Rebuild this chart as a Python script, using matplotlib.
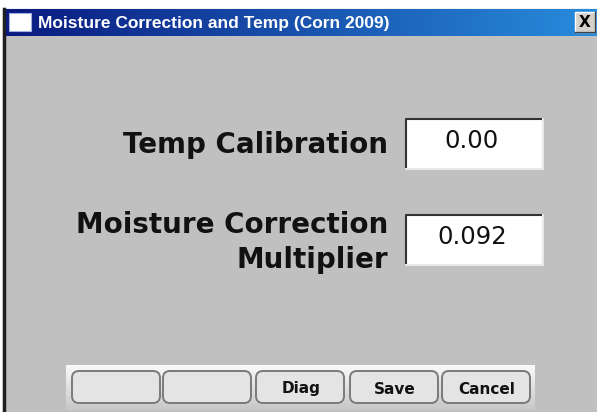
import numpy as np
import matplotlib
matplotlib.use("Agg")
import matplotlib.pyplot as plt
from matplotlib.patches import Rectangle, FancyBboxPatch

# dialog content
title = "Moisture Correction and Temp (Corn 2009)"
field_labels = [["Temp Calibration"], ["Moisture Correction", "Multiplier"]]
field_values = ["0.00", "0.092"]
button_labels = ["", "", "Diag", "Save", "Cancel"]

W, H = 597, 412
fig = plt.figure(figsize=(W / 100, H / 100), dpi=100)
ax = fig.add_axes([0, 0, 1, 1])
ax.set_xlim(0, W)
ax.set_ylim(H, 0)
ax.axis("off")

# window body
ax.add_patch(Rectangle((0, 0), W, H, color="white", zorder=0))
ax.add_patch(Rectangle((3, 9), W - 3, H - 9, color="#c0c0c0", zorder=1))
ax.plot([4, 4], [9, H], color="#202020", lw=2.5, zorder=2)

# title bar gradient
grad = np.linspace(0, 1, 256)
c0 = np.array([10, 26, 128]) / 255
c1 = np.array([40, 140, 220]) / 255
img = c0[None, :] + grad[:, None] * (c1 - c0)[None, :]
ax.imshow(img[None, :, :], extent=(6, W, 36, 9), aspect="auto", zorder=2)
ax.add_patch(Rectangle((9, 13), 22, 18, facecolor="white", edgecolor="#a0b0e0", lw=0.8, zorder=3))
ax.text(38, 23, title, color="white", fontsize=12.5, fontweight="bold",
        family="Liberation Sans", va="center", ha="left", zorder=3)
# close button
ax.add_patch(Rectangle((575, 12), 20, 20, facecolor="#d4d0c8", edgecolor="white", lw=1, zorder=3))
ax.plot([575, 595, 595], [32, 32, 12], color="#404040", lw=1, zorder=4)
ax.text(585, 22.5, "X", fontsize=11, fontweight="bold", ha="center", va="center", zorder=4)

# fields
baselines = [[153], [233, 268]]
box_top = [119, 215]
for lines, val, bls, bt in zip(field_labels, field_values, baselines, box_top):
    for line, bl in zip(lines, bls):
        ax.text(388, bl, line, fontsize=20, fontweight="bold", ha="right", va="baseline",
                color="#111111", zorder=3)
    ax.add_patch(Rectangle((406, bt), 137, 50, facecolor="white", edgecolor="none", zorder=3))
    ax.plot([406, 406, 543], [bt + 50, bt, bt], color="#333333", lw=1.5, zorder=4)
    ax.plot([406, 543, 543], [bt + 50, bt + 50, bt], color="#e8e8e8", lw=1.5, zorder=4)
    ax.text(472, bt + 22, val, fontsize=17.5, ha="center", va="center", color="#111111", zorder=5)

# button bar
bar = np.linspace(0, 1, 64)
shade = 0.98 - 0.2 * bar
bar_img = np.repeat(shade[:, None, None], 3, axis=2)
ax.imshow(bar_img, extent=(66, 535, 410, 365), aspect="auto", zorder=2)
bx = [72, 163, 256, 350, 442]
for x0, lab in zip(bx, button_labels):
    ax.add_patch(FancyBboxPatch((x0 + 3, 374), 82, 26, boxstyle="round,pad=3,rounding_size=7",
                                facecolor="#e4e4e4", edgecolor="#7a7a7a", lw=1.4, zorder=3))
    ax.text(x0 + 45, 389, lab, fontsize=11, fontweight="bold", ha="center", va="center",
            color="#111111", zorder=4)

fig.savefig("out.png", dpi=100)
